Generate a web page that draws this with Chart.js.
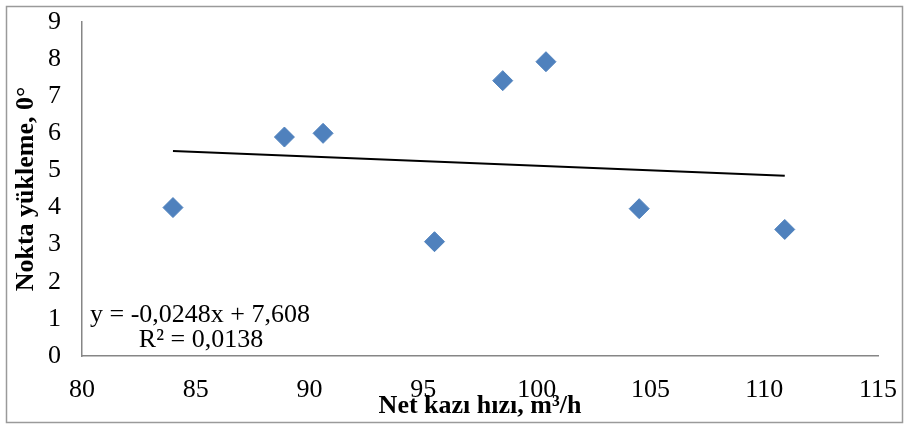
<!DOCTYPE html>
<html>
<head>
<meta charset="utf-8">
<script src="https://cdn.jsdelivr.net/npm/chart.js@4"></script>
<style>
  html, body { margin: 0; padding: 0; background: #fff; }
  canvas { display: block; }
</style>
</head>
<body>
<canvas id="chart" width="907" height="426"></canvas>
<script>
// measured points: net excavation rate vs point load
const rateX  = [84.0, 88.9, 90.6, 95.5, 98.5, 100.4, 104.5, 110.9];
const loadY  = [4.0, 5.9, 6.0, 3.08, 7.42, 7.93, 3.97, 3.41];

// linear trend as printed on the chart
const slope = -0.0248;
const intercept = 7.608;
const eqLines = ['y = -0,0248x + 7,608', 'R² = 0,0138'];

const xTitle = 'Net kazı hızı, m³/h';
const yTitle = 'Nokta yükleme, 0°';

const SERIF = "'Liberation Serif', 'Times New Roman', serif";
const BLUE = '#4f81bd';
const AXIS = '#868686';

const points = rateX.map((x, i) => ({ x, y: loadY[i] }));
const xMin = Math.min(...rateX), xMax = Math.max(...rateX);
const trend = [xMin, xMax].map(x => ({ x, y: slope * x + intercept }));

// outer frame + equation text
const extras = {
  id: 'extras',
  afterDraw(chart) {
    const { ctx } = chart;
    ctx.save();
    ctx.strokeStyle = '#9a9a9a';
    ctx.lineWidth = 1.5;
    ctx.strokeRect(6.5, 6.5, 896, 416);

    ctx.fillStyle = '#000';
    ctx.font = '26px ' + SERIF;
    ctx.textAlign = 'center';
    ctx.textBaseline = 'alphabetic';
    ctx.fillText(eqLines[0], 200, 322);
    ctx.fillText(eqLines[1], 201, 347);
    ctx.restore();
  }
};

new Chart(document.getElementById('chart').getContext('2d'), {
  type: 'scatter',
  data: {
    datasets: [
      {
        data: points,
        pointStyle: 'rectRot',
        pointRadius: 10,
        pointHoverRadius: 10,
        backgroundColor: BLUE,
        borderColor: BLUE,
        borderWidth: 1
      },
      {
        data: trend,
        showLine: true,
        borderColor: '#000',
        borderWidth: 2,
        pointRadius: 0,
        fill: false
      }
    ]
  },
  options: {
    responsive: false,
    animation: false,
    devicePixelRatio: 1,
    layout: { padding: { left: 0, right: 29, top: 22, bottom: 0 } },
    plugins: { legend: { display: false }, tooltip: { enabled: false } },
    scales: {
      x: {
        type: 'linear',
        min: 80, max: 115,
        afterFit(scale) {
          scale.height = 70;
          scale.paddingLeft = 0;
          scale.paddingRight = 0;
        },
        ticks: { stepSize: 5, color: '#000', padding: 19, font: { family: SERIF, size: 26 } },
        grid: { display: false, drawTicks: false },
        border: { display: true, color: AXIS, width: 1.5 },
        title: {
          display: true, text: xTitle, color: '#000',
          font: { family: SERIF, size: 26, weight: 'bold' },
          padding: { top: 0, bottom: 4 }
        }
      },
      y: {
        min: 0, max: 9,
        afterFit(scale) {
          scale.width = 82;
          scale.paddingTop = 0;
          scale.paddingBottom = 0;
        },
        ticks: { stepSize: 1, color: '#000', padding: 21, font: { family: SERIF, size: 26 } },
        grid: { display: false, drawTicks: false },
        border: { display: true, color: AXIS, width: 1.5 },
        title: {
          display: true, text: yTitle, color: '#000',
          font: { family: SERIF, size: 26, weight: 'bold' },
          padding: { top: 11, bottom: 0 }
        }
      }
    }
  },
  plugins: [extras]
});
</script>
</body>
</html>
